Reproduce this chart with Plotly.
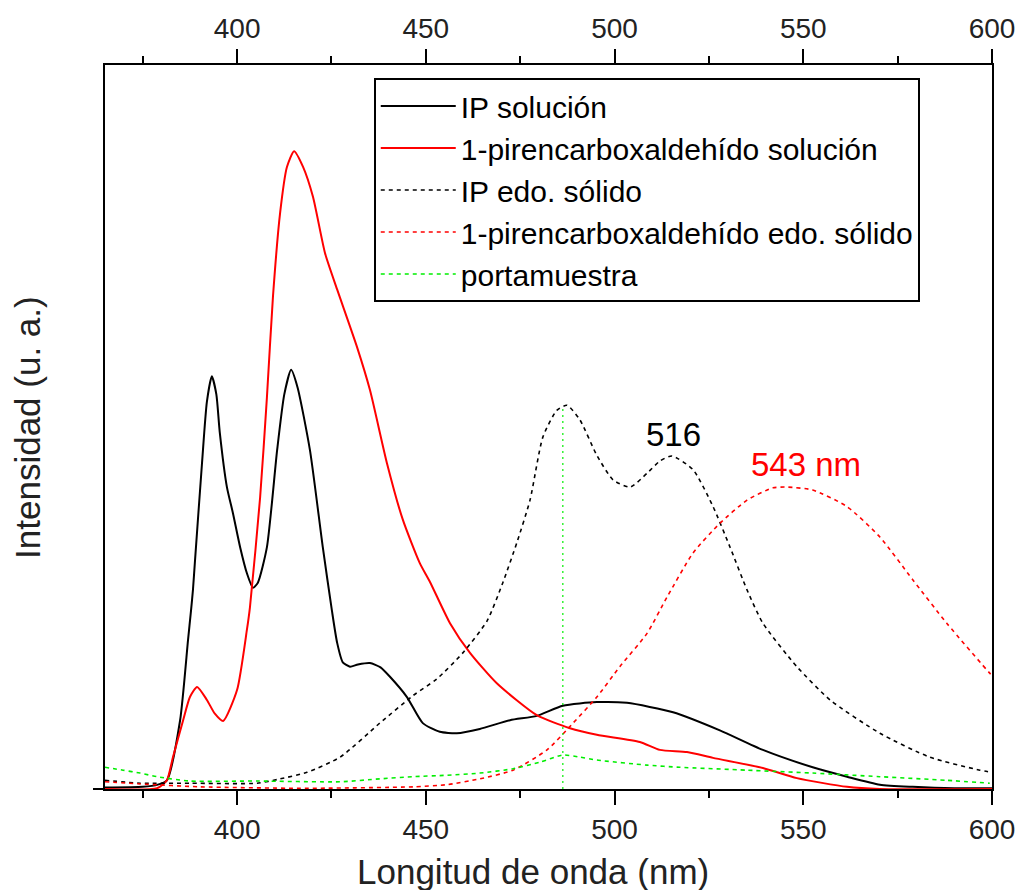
import plotly.graph_objects as go

# ---- data (wavelength nm, intensity a.u.) ----
ip_sol_x = [365, 375, 379, 381.4, 384.9, 387.0, 387.8, 388.3, 388.8, 390.7, 392.0, 393.3, 394.5, 395.4,
            397.3, 398.9, 400.8, 402.6, 404.2, 405.5, 407.9, 410.6, 412.5, 414.3, 416.0, 419.3, 422.7, 425.1,
            426.5, 428.0, 429.9, 432.0, 435.2, 438.0, 440.5, 445.0, 449.2, 453.7, 458.2, 464.3, 472.3,
            479.4, 486.3, 495.3, 503.3, 515.5, 527.9, 539.3, 552.5, 561.6, 570.3, 579.0, 590, 600]
ip_sol_y = [0.2, 0.3, 0.6, 1.2, 9.5, 20.6, 24.7, 27.5, 31.2, 45.0, 53.5, 57.0, 54.5, 49.3,
            41.7, 38.1, 33.4, 29.8, 27.8, 28.5, 33.4, 46.8, 54.5, 57.9, 55.5, 46.8, 33.4, 24.7,
            20.2, 17.5, 16.9, 17.2, 17.4, 16.8, 15.5, 12.7, 9.1, 7.9, 7.7, 8.3, 9.5,
            10.1, 11.5, 12.0, 11.9, 10.6, 8.1, 5.4, 3.0, 1.7, 0.6, 0.3, 0.1, 0.1]

pir_sol_x = [365, 378.8, 381.4, 383.0, 385.7, 387.5, 389.4, 392.0, 394.1, 396.3, 400.0, 402.6, 403.4,
             406.1, 407.9, 409.5, 411.4, 413.2, 415.1, 417.5, 420.1, 423.3, 426.5, 431.8, 435.2, 439.7,
             443.9, 448.4, 451.1, 456.4, 461.7, 468.8, 479.4, 488.2, 495.3, 506.7, 512.0, 519.2, 526.1,
             539.3, 548.3, 561.6, 570.3, 600]
pir_sol_y = [0.0, 0.1, 1.2, 4.4, 9.5, 12.7, 14.1, 12.3, 10.4, 9.4, 13.7, 22.0, 25.1,
             40.3, 54.1, 68.0, 79.6, 85.9, 88.1, 85.9, 81.8, 74.0, 69.0, 61.0, 55.1, 45.0,
             37.2, 31.2, 28.6, 22.9, 18.8, 14.6, 10.2, 8.4, 7.5, 6.5, 5.4, 5.1, 4.3,
             2.9, 1.5, 0.3, 0.0, 0.0]

ip_solid_x = [365, 374.3, 387.5, 405.3, 411.4, 418.5, 427.3, 437.8, 446.6, 452.9, 459.8,
              466.2, 470.4, 474.1, 477.6, 481.0, 484.7, 487.4, 490.8, 495.3, 499.6, 504.1, 508.6,
              512.0, 515.2, 520.8, 526.1, 530.6, 535.1, 539.3, 548.3, 557.1, 570.3, 583.5, 596.8, 600]
ip_solid_y = [1.2, 0.8, 0.8, 0.8, 1.4, 2.3, 4.4, 9.1, 12.9, 15.2, 18.8,
              23.2, 28.5, 34.0, 39.9, 48.6, 52.3, 53.0, 51.0, 46.1, 42.7, 41.7, 43.6,
              45.3, 46.0, 44.1, 39.0, 33.4, 27.5, 22.9, 16.9, 12.3, 7.7, 4.4, 2.6, 2.3]

pir_solid_x = [365, 374.3, 390.2, 416.7, 446.6, 455.6, 464.3, 473.1, 482.1, 489.0, 495.3, 501.4,
               508.6, 513.9, 520.8, 527.9, 535.1, 542.0, 545.7, 552.5, 561.6, 570.3, 579.0, 588.0,
               599.4, 600]
pir_solid_y = [1.0, 0.7, 0.3, 0.1, 0.3, 0.6, 1.4, 2.6, 5.4, 9.1, 12.7, 16.9,
               21.5, 26.5, 32.6, 36.7, 39.9, 41.6, 41.7, 41.3, 39.0, 34.8, 28.9, 22.9,
               16.0, 15.7]

porta_x = [365, 369.8, 374.3, 378.8, 387.5, 405.3, 427.3, 437.8, 446.6, 455.6, 464.3, 473.1,
           480.2, 486.3, 490.8, 495.3, 508.6, 517.3, 535.1, 552.5, 570.3, 588.0, 599.4]
porta_y = [3.0, 2.6, 2.2, 1.7, 1.1, 1.1, 1.0, 1.4, 1.7, 1.9, 2.2, 2.8,
           3.7, 4.7, 4.4, 4.0, 3.3, 3.0, 2.6, 2.2, 1.7, 1.2, 0.8]

drop_x = [486.3, 486.3]
drop_y = [0, 53.0]

x_ticks = [400, 450, 500, 550, 600]
x_minor = [375, 425, 475, 525, 575]
x_range = [365, 600]
y_range = [0, 100]

FONT = "Liberation Sans, Arial, sans-serif"
BLACK = "#000000"
RED = "#ff0000"
GREEN = "#00ee00"

fig = go.Figure()
fig.add_trace(go.Scatter(x=ip_sol_x, y=ip_sol_y, mode="lines", name="IP solución",
                         line=dict(color=BLACK, width=2, shape="spline", smoothing=0.6)))
fig.add_trace(go.Scatter(x=pir_sol_x, y=pir_sol_y, mode="lines", name="1-pirencarboxaldehído solución",
                         line=dict(color=RED, width=2, shape="spline", smoothing=0.6)))
fig.add_trace(go.Scatter(x=ip_solid_x, y=ip_solid_y, mode="lines", name="IP edo. sólido",
                         line=dict(color=BLACK, width=1.6, dash="4px,4px", shape="spline", smoothing=0.6)))
fig.add_trace(go.Scatter(x=pir_solid_x, y=pir_solid_y, mode="lines", name="1-pirencarboxaldehído edo. sólido",
                         line=dict(color=RED, width=1.6, dash="4px,4px", shape="spline", smoothing=0.6)))
fig.add_trace(go.Scatter(x=porta_x, y=porta_y, mode="lines", name="portamuestra",
                         line=dict(color=GREEN, width=1.6, dash="4px,4px", shape="spline", smoothing=0.6)))
fig.add_trace(go.Scatter(x=drop_x, y=drop_y, mode="lines", showlegend=False,
                         line=dict(color=GREEN, width=1.2, dash="2px,4px")))
# invisible trace to activate the top axis
fig.add_trace(go.Scatter(x=x_range, y=[None, None], xaxis="x2", mode="lines", showlegend=False,
                         hoverinfo="skip"))

axis_common = dict(range=x_range, tickvals=x_ticks, ticks="outside", ticklen=14, tickwidth=2,
                   tickcolor=BLACK, showline=True, linecolor=BLACK, linewidth=2, showgrid=False,
                   zeroline=False, automargin=False, tickfont=dict(family=FONT, size=28, color="#222"),
                   minor=dict(tickvals=x_minor, ticks="outside", ticklen=7,
                              tickwidth=2, tickcolor=BLACK))

fig.update_layout(
    width=1018, height=890,
    margin=dict(l=105, r=26, t=65, b=101, autoexpand=False),
    paper_bgcolor="white", plot_bgcolor="white",
    font=dict(family=FONT, color=BLACK),
    xaxis=dict(**axis_common, side="bottom"),
    xaxis2=dict(**axis_common, side="top", overlaying="x", matches="x"),
    yaxis=dict(range=y_range, showline=True, linecolor=BLACK, linewidth=2, mirror=True,
               ticks="", showticklabels=False, showgrid=False, zeroline=False, automargin=False),
    legend=dict(x=0.303, y=0.982, xanchor="left", yanchor="top", bgcolor="white",
                bordercolor=BLACK, borderwidth=2, font=dict(family=FONT, size=30, color=BLACK),
                itemwidth=75, tracegroupgap=0),
    showlegend=True,
)

fig.add_annotation(x=515.5, y=48.9, text="516", showarrow=False,
                   font=dict(family=FONT, size=33, color=BLACK))
fig.add_annotation(x=550.7, y=44.8, text="543 nm", showarrow=False,
                   font=dict(family=FONT, size=33, color=RED))
fig.add_annotation(xref="paper", yref="paper", x=0.4825, y=-0.1146, text="Longitud de onda (nm)",
                   showarrow=False, yanchor="middle", font=dict(family=FONT, size=35, color="#222"))
fig.add_annotation(xref="paper", yref="paper", x=-0.088, y=0.5, text="Intensidad (u. a.)",
                   showarrow=False, textangle=-90, xanchor="center", yanchor="middle",
                   font=dict(family=FONT, size=35, color="#222"))
fig.add_shape(type="line", xref="paper", yref="paper", x0=-0.0135, x1=0, y0=0, y1=0,
              line=dict(color=BLACK, width=2))

fig.write_html("out.html")
